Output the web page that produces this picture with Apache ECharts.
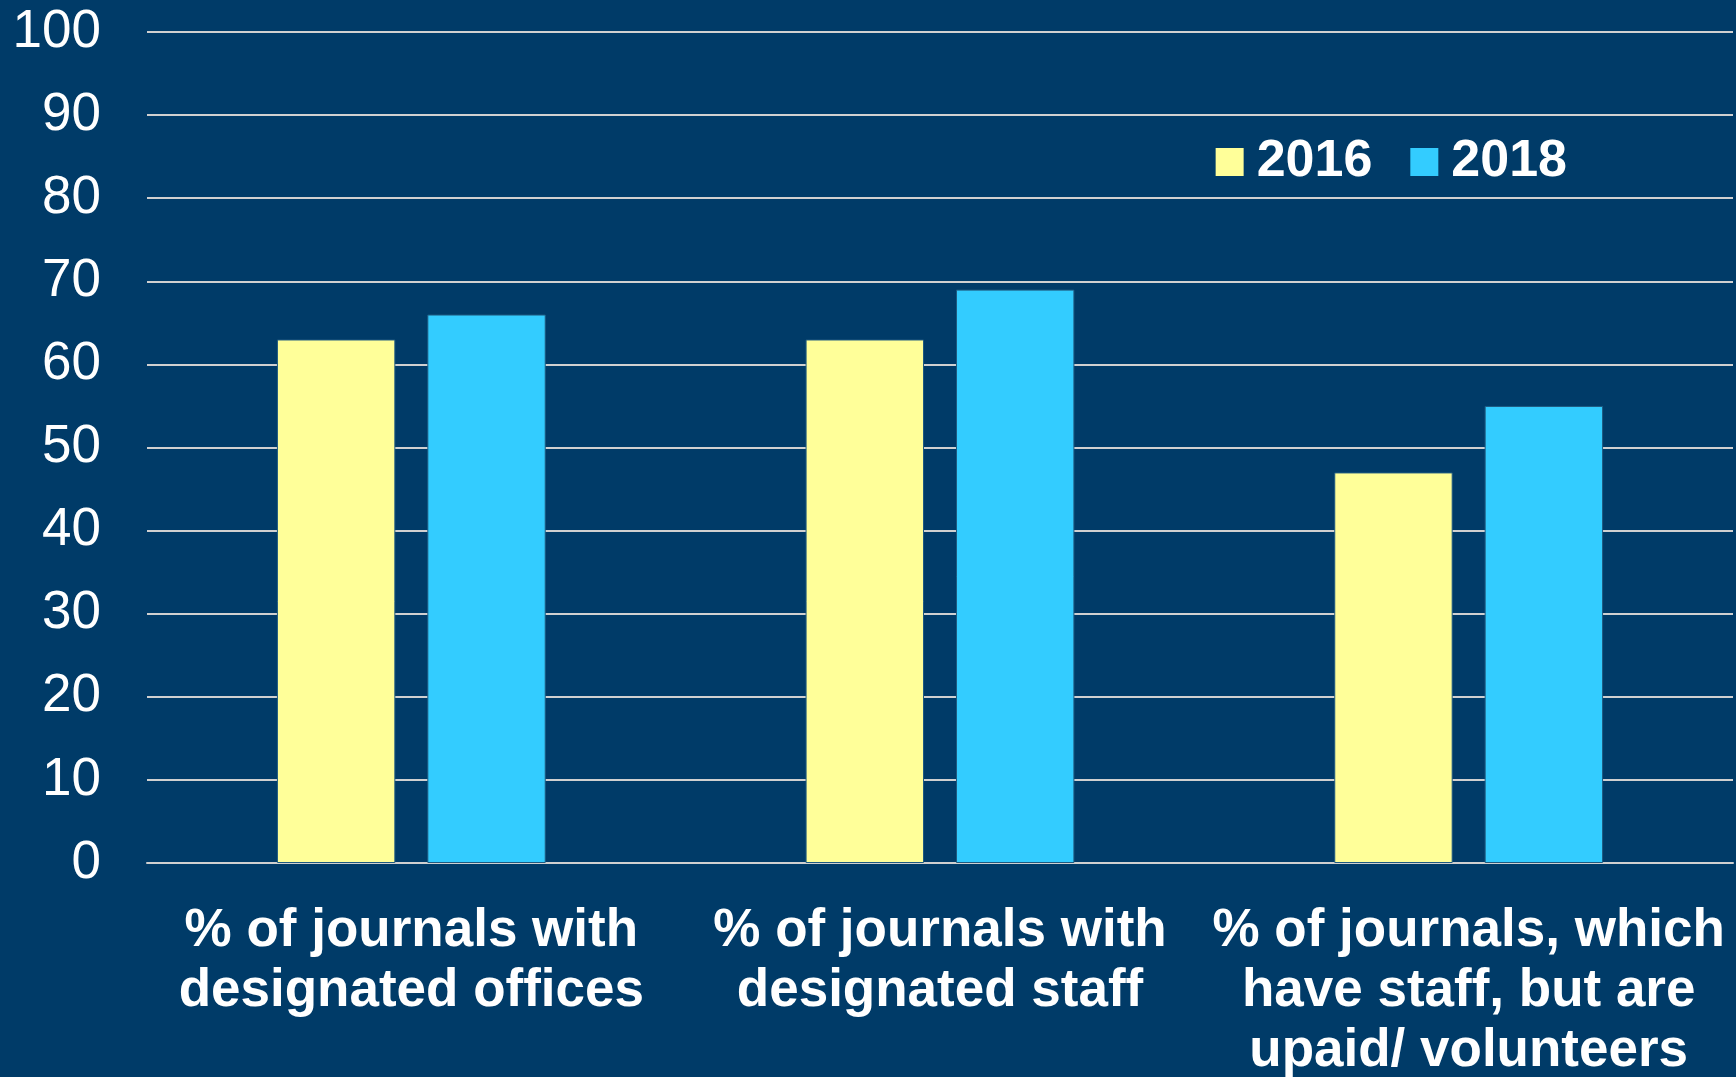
<!DOCTYPE html>
<html>
<head>
<meta charset="utf-8">
<style>
  html, body { margin: 0; padding: 0; background: #003B68; }
  #chart { width: 1736px; height: 1077px; }
</style>
<script src="https://cdn.jsdelivr.net/npm/echarts@6/dist/echarts.min.js"></script>
</head>
<body>
<div id="chart"></div>
<script>
// Categories and yearly shares (percent of journals)
const categories = [
  '% of journals with\ndesignated offices',
  '% of journals with\ndesignated staff',
  '% of journals, which\nhave staff, but are\nupaid/ volunteers'
];
const values2016 = [63, 63, 47];
const values2018 = [66, 69, 55];
const yTicks = { min: 0, max: 100, interval: 10 };

const chart = echarts.init(document.getElementById('chart'));
chart.setOption({
  backgroundColor: '#003B68',
  animation: false,
  textStyle: { fontFamily: 'Liberation Sans, Arial, sans-serif' },
  grid: {
    left: 147, right: 3, top: 32, bottom: 214,
    containLabel: false,
    outerBoundsMode: 'none'
  },
  legend: {
    data: ['2016', '2018'],
    right: 164,
    top: 131,
    icon: 'rect',
    itemWidth: 28,
    itemHeight: 28,
    itemGap: 38,
    itemStyle: { borderWidth: 0 },
    textStyle: {
      color: '#FFFFFF',
      fontSize: 52,
      fontWeight: 'bold',
      padding: [0, 0, 0, 8]
    }
  },
  xAxis: {
    type: 'category',
    data: categories,
    axisLine: { show: true, lineStyle: { color: '#D0D0D0', width: 2 } },
    axisTick: { show: false },
    axisLabel: {
      interval: 0,
      color: '#FFFFFF',
      fontSize: 53,
      fontWeight: 'bold',
      lineHeight: 60,
      margin: 38,
      align: 'center'
    }
  },
  yAxis: {
    type: 'value',
    min: yTicks.min,
    max: yTicks.max,
    interval: yTicks.interval,
    axisLine: { show: false },
    axisTick: { show: false },
    axisLabel: { color: '#FFFFFF', fontSize: 53, margin: 46 },
    splitLine: { lineStyle: { color: '#D0D0D0', width: 2 } }
  },
  series: [
    {
      name: '2016',
      type: 'bar',
      data: values2016,
      barWidth: '22.4%',
      barGap: '27%',
      itemStyle: { color: '#FFFF99', borderColor: '#1F5A80', borderWidth: 1 }
    },
    {
      name: '2018',
      type: 'bar',
      data: values2018,
      barWidth: '22.4%',
      itemStyle: { color: '#33CCFF', borderColor: '#1F5A80', borderWidth: 1 }
    }
  ]
});
</script>
</body>
</html>
